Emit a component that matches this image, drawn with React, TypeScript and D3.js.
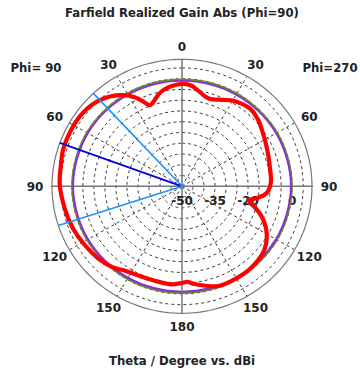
import React from "react";
import * as d3 from "d3";

// ---- data ----
const TITLE = "Farfield Realized Gain Abs (Phi=90)";
const AXIS_TITLE = "Theta / Degree vs. dBi";
const LEFT_PHI = "Phi= 90";
const RIGHT_PHI = "Phi=270";

const ANGLE_TICKS = [0, 30, 60, 90, 120, 150, 180];
const RING_VALUES = [-45, -40, -35, -30, -25, -20, -15, -10, -5, 0, 5];
const RADIAL_LABELS = [-50, -35, -20, 0];
const SCALE_MIN = -50;
const SCALE_MAX = 9;

// Red: realized gain, Phi=270 side (right), theta in degrees
const RED_THETA_R = [0, 5, 9, 14, 17, 22, 29, 35, 41, 48, 56, 66, 77, 88, 95, 99, 102, 104, 107, 112, 120, 129, 138, 145, 153, 161, 167, 173, 177, 180];
const RED_GAIN_R = [-2.45, -3.0, -4.8, -6.9, -7.5, -6.6, -4.3, -3.1, -2.5, -3.6, -5.7, -7.7, -9.1, -9.7, -11.6, -15.5, -18.8, -18.0, -15.0, -10.6, -5.6, -2.2, -1.0, -0.6, -0.6, -0.9, -2.6, -4.3, -5.5, -5.1];
// Red: Phi=90 side (left)
const RED_THETA_L = [0, 6, 11, 14, 18.6, 21.3, 24.2, 27.4, 32.3, 37.5, 45.7, 55, 64, 72.5, 79, 89, 101, 111.6, 121.7, 131.3, 139.3, 148.3, 156.2, 166.2, 173.9, 180];
const RED_GAIN_L = [-2.45, -3.3, -4.6, -6.0, -8.8, -9.6, -6.7, -3.4, 0.1, 2.7, 5.4, 6.6, 6.7, 6.6, 5.9, 5.5, 4.2, 3.2, 1.9, 0.7, -0.8, -3.4, -4.2, -4.4, -4.2, -5.1];

// Reference curves (green and purple)
const REF_THETA = [0, 30, 60, 90, 120, 150, 180];
const GREEN_R = [-0.4, -0.3, -0.2, -0.2, -0.3, -0.4, -0.5];
const GREEN_L = [-0.4, -0.3, -0.2, -0.2, -0.3, -0.4, -0.5];
const PURPLE_R = [-1.0, -0.9, -0.7, -0.6, -0.8, -1.0, -1.1];
const PURPLE_L = [-1.0, -0.9, -0.7, -0.6, -0.8, -1.0, -1.1];

// Beam direction lines (Phi=90 side)
const MAIN_LOBE = 70;
const HALF_POWER = [43, 108];

// ---- layout ----
const W = 360;
const H = 374;
const CX = 182;
const CY = 186.3;
const RX = 130;
const RY = 127;
const FONT = "'DejaVu Sans', Verdana, sans-serif";

const rScale = d3.scaleLinear().domain([SCALE_MIN, SCALE_MAX]).range([0, 1]);

function pt(angleDeg: number, frac: number): [number, number] {
  const a = (angleDeg * Math.PI) / 180;
  return [CX + RX * frac * Math.sin(a), CY - RY * frac * Math.cos(a)];
}

function loop(thetaR: number[], gainR: number[], thetaL: number[], gainL: number[]): [number, number][] {
  const pts: [number, number][] = [];
  thetaR.forEach((t, i) => pts.push(pt(t, rScale(gainR[i]))));
  for (let i = thetaL.length - 2; i >= 1; i--) {
    pts.push(pt(360 - thetaL[i], rScale(gainL[i])));
  }
  return pts;
}

function ellipsePath(frac: number, steps = 180): string {
  const p: [number, number][] = [];
  for (let i = 0; i < steps; i++) p.push(pt((i * 360) / steps, frac));
  return (d3.line().curve(d3.curveLinearClosed)(p) as string);
}

export default function App() {
  const closed = d3.line<[number, number]>().curve(d3.curveCatmullRomClosed.alpha(0.5));
  const redPts = loop(RED_THETA_R, RED_GAIN_R, RED_THETA_L, RED_GAIN_L);
  const greenPts = loop(REF_THETA, GREEN_R, REF_THETA, GREEN_L);
  const purplePts = loop(REF_THETA, PURPLE_R, REF_THETA, PURPLE_L);

  const spokes = [30, 60, 120, 150, 210, 240, 300, 330];

  const angleLabels: { text: string; x: number; y: number }[] = [];
  ANGLE_TICKS.forEach((t) => {
    const sides = t === 0 || t === 180 ? [t] : [t, 360 - t];
    sides.forEach((a) => {
      const r = (a * Math.PI) / 180;
      angleLabels.push({ text: String(t), x: CX + 147 * Math.sin(r), y: CY - 140 * Math.cos(r) });
    });
  });

  return (
    <svg width={W} height={H} style={{ position: "absolute", left: 0, top: 0, background: "#fff" }}>
      <rect x={0} y={0} width={W} height={H} fill="#fff" />
      {/* dashed rings */}
      {RING_VALUES.map((v) => (
        <path key={"ring" + v} d={ellipsePath(rScale(v))} fill="none" stroke="#222" strokeWidth={0.9} strokeDasharray="3,3" />
      ))}
      {/* dashed spokes */}
      {spokes.map((a) => {
        const [x, y] = pt(a, 1);
        return <line key={"sp" + a} x1={CX} y1={CY} x2={x} y2={y} stroke="#222" strokeWidth={0.9} strokeDasharray="3,3" />;
      })}
      {/* outer ellipse */}
      <path d={ellipsePath(1)} fill="none" stroke="#777" strokeWidth={1.2} />
      {/* axes */}
      <line x1={CX - RX - 1} y1={CY} x2={CX + RX + 1} y2={CY} stroke="#777" strokeWidth={1.5} />
      <line x1={CX} y1={CY - RY} x2={CX} y2={CY + RY} stroke="#777" strokeWidth={1.5} />
      {/* radial labels */}
      {RADIAL_LABELS.map((v) => (
        <text key={"rl" + v} x={CX + RX * rScale(v)} y={CY + 14} dy="0.35em" textAnchor="middle" fontFamily={FONT} fontWeight="bold" fontSize={12} fill="#222">
          {String(v)}
        </text>
      ))}
      {/* reference curves */}
      <path d={closed(greenPts) as string} fill="none" stroke="#6b8e23" strokeWidth={2.2} />
      <path d={closed(purplePts) as string} fill="none" stroke="#8a2be2" strokeWidth={1.8} />
      {/* red gain */}
      <path d={closed(redPts) as string} fill="none" stroke="#ff0000" strokeWidth={4.2} strokeLinejoin="round" />
      {/* beam lines */}
      {HALF_POWER.map((t) => {
        const [x, y] = pt(360 - t, 1);
        return <line key={"hp" + t} x1={CX} y1={CY} x2={x} y2={y} stroke="#1e90ff" strokeWidth={1.6} />;
      })}
      {(() => {
        const [x, y] = pt(360 - MAIN_LOBE, 1);
        return <line x1={CX} y1={CY} x2={x} y2={y} stroke="#0000dd" strokeWidth={1.8} />;
      })()}
      <circle cx={CX} cy={CY} r={2} fill="#1e90ff" />
      {/* angle labels */}
      {angleLabels.map((l, i) => (
        <text key={"al" + i} x={l.x} y={l.y} dy="0.35em" textAnchor="middle" fontFamily={FONT} fontWeight="bold" fontSize={12} fill="#222">
          {l.text}
        </text>
      ))}
      {/* titles */}
      <text x={CX} y={13} dy="0.35em" textAnchor="middle" fontFamily={FONT} fontWeight="bold" fontSize={11.7} fill="#222">
        {TITLE}
      </text>
      <text x={CX} y={361} dy="0.35em" textAnchor="middle" fontFamily={FONT} fontWeight="bold" fontSize={11.7} fill="#222">
        {AXIS_TITLE}
      </text>
      <text x={36} y={68} dy="0.35em" textAnchor="middle" fontFamily={FONT} fontWeight="bold" fontSize={11.7} fill="#222">
        {LEFT_PHI}
      </text>
      <text x={330} y={68} dy="0.35em" textAnchor="middle" fontFamily={FONT} fontWeight="bold" fontSize={11.7} fill="#222">
        {RIGHT_PHI}
      </text>
    </svg>
  );
}
